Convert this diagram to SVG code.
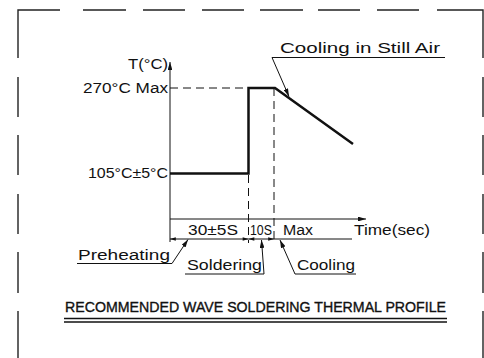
<svg xmlns="http://www.w3.org/2000/svg" width="484" height="358" viewBox="0 0 484 358">
<defs>
<style>
.t{font-family:"Liberation Sans",Arial,sans-serif;font-size:14px;fill:#111}
.title{font-family:"Liberation Sans",Arial,sans-serif;font-size:14px;fill:#111;stroke:#111;stroke-width:0.35}
.thin{stroke:#111;stroke-width:1;fill:none}
.thick{stroke:#111;stroke-width:2.5;fill:none}
.dash{stroke:#111;stroke-width:1;fill:none;stroke-dasharray:8,5}
.border{stroke:#222;stroke-width:1.4;fill:none}
</style>
<marker id="ah" viewBox="0 0 10 6" refX="10" refY="3" markerWidth="8" markerHeight="4.8" markerUnits="userSpaceOnUse" orient="auto">
<path d="M0,0 L10,3 L0,6 Z" fill="#111"/>
</marker>
<marker id="dh" viewBox="0 0 10 6" refX="10" refY="3" markerWidth="7" markerHeight="3.5" markerUnits="userSpaceOnUse" orient="auto-start-reverse">
<path d="M0,0 L10,3 L0,6 Z" fill="#111"/>
</marker>
</defs>
<rect width="484" height="358" fill="#fff"/>
<g id="border">
<path class="border" d="M18,58 V10 H60 M83,10 H126 M143,10 H185 M202,10 H244 M260,10 H303 M318,10 H360 M377,10 H419 M437,10 H483 V58 M483,77 V117 M483,135 V175 M483,194 V234 M483,252 V293 M483,311 V358 M18,77 V117 M18,135 V175 M18,194 V234 M18,252 V293 M18,311 V358"/>
</g>
<g id="connectors">
<line class="thin" x1="170" y1="242" x2="170" y2="62" marker-end="url(#ah)"/>
<line class="thin" x1="170" y1="219" x2="366" y2="219" marker-end="url(#ah)"/>
<line class="dash" x1="170" y1="88" x2="248" y2="88"/>
<line class="dash" x1="274" y1="88" x2="274" y2="243"/>
<line class="dash" x1="248.5" y1="175" x2="248.5" y2="243"/>
<polyline class="thick" points="170,173.5 248.5,173.5 248.5,88 275,88 353,144"/>
<line class="thin" x1="170" y1="239" x2="248.5" y2="239" marker-start="url(#dh)" marker-end="url(#dh)"/>
<line class="thin" x1="248.5" y1="239" x2="274" y2="239" marker-start="url(#dh)" marker-end="url(#dh)"/>
<line class="thin" x1="274" y1="239" x2="352" y2="239"/>
<polyline class="thin" points="445,57.5 272,57.5 289,96.5" marker-end="url(#ah)"/>
<polyline class="thin" points="77,263.5 172,263.5 188,239.5" marker-end="url(#ah)"/>
<polyline class="thin" points="185,274 264,274 261.5,240" marker-end="url(#ah)"/>
<polyline class="thin" points="356,274 295,274 280,240" marker-end="url(#ah)"/>
<line x1="64" y1="318.5" x2="447" y2="318.5" stroke="#111" stroke-width="1.3"/>
<line x1="64" y1="322" x2="447" y2="322" stroke="#111" stroke-width="1.3"/>
</g>
<g id="y-axis-label"><text class="t" x="128" y="69" textLength="40" lengthAdjust="spacingAndGlyphs">T(°C)</text></g>
<g id="max-temp"><text class="t" x="83" y="93" textLength="85" lengthAdjust="spacingAndGlyphs">270°C Max</text></g>
<g id="preheat-temp"><text class="t" x="88" y="178" textLength="80" lengthAdjust="spacingAndGlyphs">105°C±5°C</text></g>
<g id="cooling-still-air"><text class="t" x="280" y="53" textLength="160" lengthAdjust="spacingAndGlyphs">Cooling in Still Air</text></g>
<g id="dim-30"><text class="t" x="188" y="235" textLength="50" lengthAdjust="spacingAndGlyphs">30±5S</text></g>
<g id="dim-10"><text class="t" x="250" y="235" textLength="22" lengthAdjust="spacingAndGlyphs">10S</text></g>
<g id="dim-max"><text class="t" x="283" y="235" textLength="30" lengthAdjust="spacingAndGlyphs">Max</text></g>
<g id="x-axis-label"><text class="t" x="354" y="235" textLength="76" lengthAdjust="spacingAndGlyphs">Time(sec)</text></g>
<g id="preheating"><text class="t" x="78" y="259.5" textLength="92" lengthAdjust="spacingAndGlyphs">Preheating</text></g>
<g id="soldering"><text class="t" x="187" y="270" textLength="75" lengthAdjust="spacingAndGlyphs">Soldering</text></g>
<g id="cooling"><text class="t" x="297" y="270" textLength="58" lengthAdjust="spacingAndGlyphs">Cooling</text></g>
<g id="title"><text class="title" x="65" y="312" textLength="381" lengthAdjust="spacingAndGlyphs">RECOMMENDED WAVE SOLDERING THERMAL PROFILE</text></g>
</svg>
